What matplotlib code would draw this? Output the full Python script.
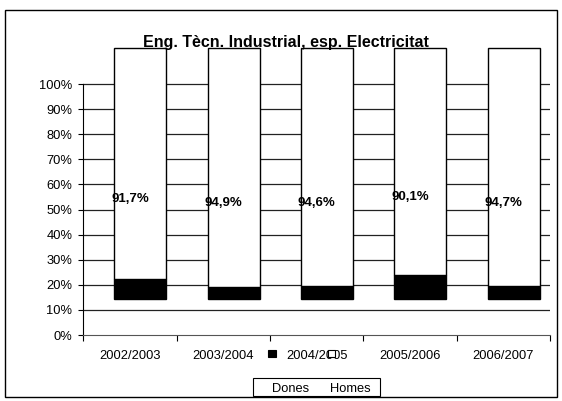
import numpy as np
import matplotlib.pyplot as plt
from matplotlib.patches import Rectangle

plt.rcParams["font.family"] = ["Liberation Sans", "DejaVu Sans"]

years = ["2002/2003", "2003/2004", "2004/2005", "2005/2006", "2006/2007"]
homes = [91.7, 94.9, 94.6, 90.1, 94.7]
dones = [100 - h for h in homes]
labels = ["91,7%", "94,9%", "94,6%", "90,1%", "94,7%"]

W, H = 562, 401
fig = plt.figure(figsize=(W / 100, H / 100), dpi=100)

# plot area in pixels: x 83..550, 0% at y=335, 10% = 25.1 px
ax = fig.add_axes([83.3 / W, 1 - 335 / H, (550 - 83.3) / W, 120 * 2.51 / H])
ax.set_xlim(-0.5, 4.5)
ax.set_ylim(0, 120)

# grid lines
for v in range(10, 101, 10):
    ax.axhline(v, color="#222222", lw=0.9, zorder=1)

# the bars are drawn shifted, as in the original rendering
x = np.arange(len(years))
shift_x, shift_y = 0.112, 14.2
ax.bar(x + shift_x, dones, 0.556, bottom=shift_y, color="black",
       edgecolor="black", lw=1, zorder=2)
ax.bar(x + shift_x, homes, 0.556, bottom=[shift_y + d for d in dones],
       color="white", edgecolor="black", lw=1, zorder=2)

for xi, d, h, lab in zip(x, dones, homes, labels):
    ax.text(xi, d + h / 2, lab, ha="center", va="center", fontsize=9.5,
            fontweight="bold", zorder=3)

for s in ["top", "right"]:
    ax.spines[s].set_visible(False)
ax.spines["left"].set_bounds(0, 100)
ax.spines["left"].set_linewidth(0.8)
ax.spines["bottom"].set_color("#555555")

ax.set_yticks(range(0, 101, 10))
ax.set_yticklabels([f"{v}%" for v in range(0, 101, 10)], fontsize=9.3)
ax.tick_params(axis="y", length=3.4, width=0.8, pad=4.5)

ax.set_xticks(np.arange(-0.5, 4.6, 1))
ax.set_xticklabels([])
ax.tick_params(axis="x", length=4, width=0.8, direction="out")
ax.set_xticks(x, minor=True)
ax.set_xticklabels(years, minor=True, fontsize=9.3)
ax.tick_params(axis="x", which="minor", length=0, pad=11)

fig.text(286.3 / W, 1 - 46.5 / H, "Eng. Tècn. Industrial, esp. Electricitat",
         ha="center", va="baseline", fontsize=11.5, fontweight="bold")

# legend box, with its markers drawn out of place
fig.add_artist(Rectangle((253.3 / W, 1 - 396 / H), 126.7 / W, 18.5 / H,
                         facecolor="white", edgecolor="black", lw=0.8,
                         transform=fig.transFigure))
fig.text(271.7 / W, 1 - 391.5 / H, "Dones", ha="left", va="baseline",
         fontsize=9.3)
fig.text(330 / W, 1 - 391.5 / H, "Homes", ha="left", va="baseline",
         fontsize=9.3)

sq = 7.5
fig.add_artist(Rectangle(((272 - sq / 2) / W, 1 - (353.7 + sq / 2) / H),
                         sq / W, sq / H, facecolor="black",
                         edgecolor="black", lw=0.8,
                         transform=fig.transFigure))
fig.add_artist(Rectangle(((331.3 - sq / 2) / W, 1 - (353.7 + sq / 2) / H),
                         sq / W, sq / H, facecolor="white",
                         edgecolor="black", lw=0.8,
                         transform=fig.transFigure, zorder=5))

# outer chart frame
fig.add_artist(Rectangle((5 / W, 1 - 397 / H), 552 / W, 387 / H,
                         fill=False, edgecolor="black", lw=1,
                         transform=fig.transFigure))

fig.savefig("out.png", dpi=100)
